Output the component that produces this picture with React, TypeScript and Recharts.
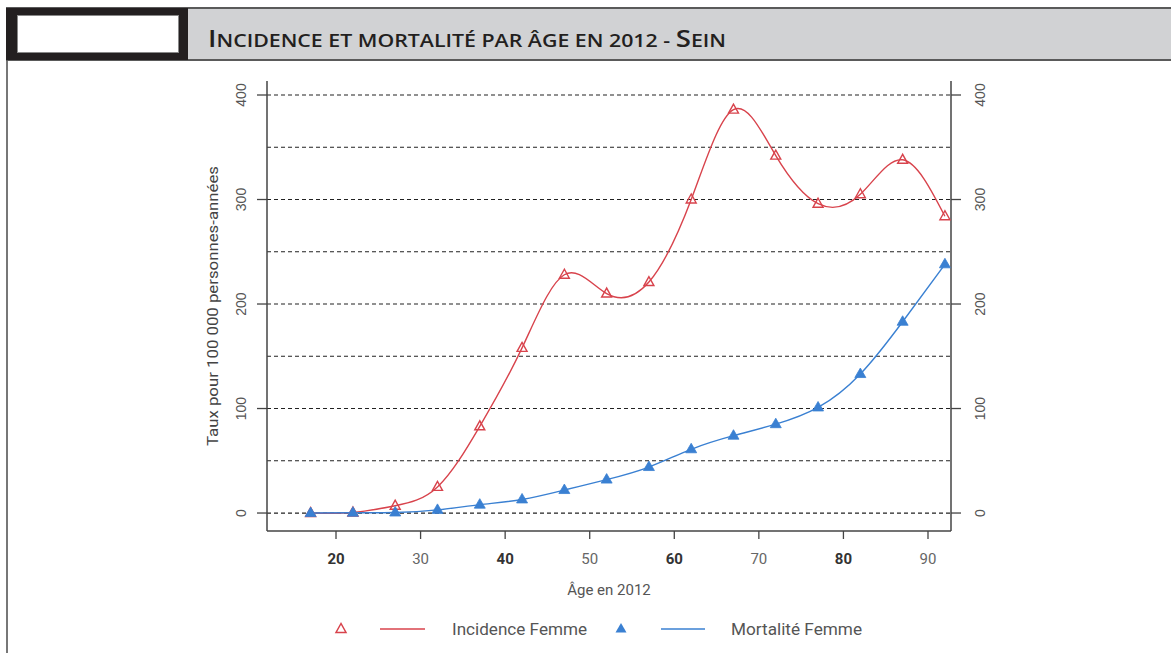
import React from 'react';
import { LineChart, Line, XAxis, YAxis, ReferenceLine, Legend } from 'recharts';

const ages = [17, 22, 27, 32, 37, 42, 47, 52, 57, 62, 67, 72, 77, 82, 87, 92];
const incidenceFemme = [0, 0.5, 7, 25, 83, 158, 228, 210, 221, 300, 386, 342, 296, 305, 338, 284];
const mortaliteFemme = [0, 0.3, 0.5, 3, 8, 13, 22, 32, 44, 61, 74, 85, 101, 133, 183, 238];
const xTicks = [20, 30, 40, 50, 60, 70, 80, 90];
const yTicks = [0, 100, 200, 300, 400];
const gridValues = [0, 50, 100, 150, 200, 250, 300, 350, 400];

const data = ages.map((a, i) => ({ age: a, incidence: incidenceFemme[i], mortalite: mortaliteFemme[i] }));

const RED = '#d8434c';
const BLUE = '#3a80d2';
const X_DOMAIN: [number, number] = [11.84, 92.72];
const Y_DOMAIN: [number, number] = [-17.2, 413.4];

const OpenTri = (props: any) => {
  const { cx, cy, index } = props;
  if (cx == null || cy == null) return <g key={`o${index}`} />;
  return (
    <polygon key={`o${index}`} points={`${cx},${cy - 5.5} ${cx - 5},${cy + 3.5} ${cx + 5},${cy + 3.5}`}
      fill="none" stroke={RED} strokeWidth={1.4} />
  );
};
const FillTri = (props: any) => {
  const { cx, cy, index } = props;
  if (cx == null || cy == null) return <g key={`f${index}`} />;
  return (
    <polygon key={`f${index}`} points={`${cx},${cy - 6} ${cx - 5.5},${cy + 3.5} ${cx + 5.5},${cy + 3.5}`}
      fill={BLUE} stroke={BLUE} strokeWidth={0.8} />
  );
};

const XTick = (props: any) => {
  const { x, y, payload, index } = props;
  return (
    <text x={x} y={y + 18} textAnchor="middle" dominantBaseline="central"
      fontFamily="Roboto, 'Liberation Sans', sans-serif" fontSize={15}
      fontWeight={index % 2 === 0 ? 700 : 400} fill={index % 2 === 0 ? '#333' : '#666'}>
      {payload.value}
    </text>
  );
};

const YTickLeft = (props: any) => {
  const { x, y, payload } = props;
  const cx = x - 14;
  return (
    <text x={cx} y={y} transform={`rotate(-90 ${cx} ${y})`} textAnchor="middle" dominantBaseline="central"
      fontFamily="'Liberation Sans', Arial, sans-serif" fontSize={14} fill="#555">
      {payload.value}
    </text>
  );
};
const YTickRight = (props: any) => {
  const { x, y, payload } = props;
  const cx = x + 17;
  return (
    <text x={cx} y={y} transform={`rotate(-90 ${cx} ${y})`} textAnchor="middle" dominantBaseline="central"
      fontFamily="'Liberation Sans', Arial, sans-serif" fontSize={14} fill="#555">
      {payload.value}
    </text>
  );
};

const XLabel = (props: any) => {
  const vb = props.viewBox || {};
  const cx = vb.x + vb.width / 2;
  return (
    <text x={cx} y={vb.y + 59} textAnchor="middle" dominantBaseline="central"
      fontFamily="Roboto, 'Liberation Sans', sans-serif" fontSize={15} fill="#555">
      Âge en 2012
    </text>
  );
};
const YLabel = (props: any) => {
  const vb = props.viewBox || {};
  const cx = vb.x + 6;
  const cy = vb.y + vb.height / 2;
  return (
    <text x={cx} y={cy} transform={`rotate(-90 ${cx} ${cy})`} textAnchor="middle" dominantBaseline="central"
      fontFamily="Roboto, 'Liberation Sans', sans-serif" fontSize={15} fill="#444"
      textLength={280} lengthAdjust="spacingAndGlyphs">
      Taux pour 100 000 personnes-années
    </text>
  );
};

const LegendContent = () => (
  <svg width={1171} height={30}>
    <polygon points="341,9.5 336,18.5 346,18.5" fill="none" stroke={RED} strokeWidth={1.5} />
    <line x1={380} x2={425} y1={15} y2={15} stroke={RED} strokeWidth={1.5} />
    <text x={452} y={15} dominantBaseline="central" fontFamily="Roboto, sans-serif" fontSize={16} fill="#555"
      textLength={135} lengthAdjust="spacingAndGlyphs">Incidence Femme</text>
    <polygon points="621,9 615.5,18.5 626.5,18.5" fill={BLUE} />
    <line x1={661} x2={705} y1={15} y2={15} stroke={BLUE} strokeWidth={1.5} />
    <text x={731} y={15} dominantBaseline="central" fontFamily="Roboto, sans-serif" fontSize={16} fill="#555"
      textLength={131} lengthAdjust="spacingAndGlyphs">Mortalité Femme</text>
  </svg>
);

const BIG = 24;
const SMALL = 18.5;

export default function App() {
  return (
    <div style={{ position: 'absolute', left: 0, top: 0, width: 1171, height: 653, background: '#fff', overflow: 'hidden' }}>
      {/* header */}
      <div style={{ position: 'absolute', left: 6, top: 7, width: 1165, height: 54, background: '#5a5a5a' }} />
      <div style={{ position: 'absolute', left: 6, top: 8, width: 182, height: 52, background: '#231f20' }} />
      <div style={{ position: 'absolute', left: 17, top: 15, width: 160, height: 36, background: '#fff', border: '1px solid #888' }} />
      <div style={{ position: 'absolute', left: 188, top: 9, width: 983, height: 50, background: '#d1d2d4' }} />
      <svg style={{ position: 'absolute', left: 188, top: 9 }} width={983} height={50}>
        <text x={20} y={38} fontFamily="'Open Sans', 'Liberation Sans', sans-serif" fontWeight={600}
          fill="#231f20" textLength={518} lengthAdjust="spacingAndGlyphs">
          <tspan fontSize={BIG}>I</tspan>
          <tspan fontSize={SMALL}>NCIDENCE ET MORTALITÉ PAR ÂGE EN 2012 - </tspan>
          <tspan fontSize={BIG}>S</tspan>
          <tspan fontSize={SMALL}>EIN</tspan>
        </text>
      </svg>
      <div style={{ position: 'absolute', left: 6, top: 61, width: 2, height: 592, background: '#777' }} />

      <div style={{ position: 'absolute', left: 0, top: 0 }}>
        <LineChart width={1171} height={653} data={data} margin={{ top: 81, left: 207, right: 160, bottom: 52 }}>
          <XAxis dataKey="age" type="number" domain={X_DOMAIN} allowDataOverflow ticks={xTicks}
            height={40} tickSize={8} tick={<XTick />} tickLine={{ stroke: '#444', strokeWidth: 1.3 }}
            axisLine={{ stroke: '#444', strokeWidth: 1.5 }} label={<XLabel />} />
          <XAxis xAxisId="top" orientation="top" type="number" domain={X_DOMAIN} allowDataOverflow height={0}
            tick={false} tickLine={false} axisLine={{ stroke: '#444', strokeWidth: 1.5 }} />
          <YAxis yAxisId="left" type="number" domain={Y_DOMAIN} allowDataOverflow ticks={yTicks} width={60}
            tickSize={10} tick={<YTickLeft />} tickLine={{ stroke: '#444', strokeWidth: 1.3 }}
            axisLine={{ stroke: '#444', strokeWidth: 1.5 }} label={<YLabel />} />
          <YAxis yAxisId="right" orientation="right" type="number" domain={Y_DOMAIN} allowDataOverflow ticks={yTicks}
            width={60} tickSize={10} tick={<YTickRight />} tickLine={{ stroke: '#444', strokeWidth: 1.3 }}
            axisLine={{ stroke: '#444', strokeWidth: 1.5 }} />
          {gridValues.map((v) => (
            <ReferenceLine key={v} yAxisId="left" y={v} stroke="#222" strokeWidth={1.2} strokeDasharray="4 3" />
          ))}
          <Line yAxisId="left" dataKey="incidence" type="natural" stroke={RED} strokeWidth={1.4}
            dot={OpenTri} activeDot={false} isAnimationActive={false} />
          <Line yAxisId="left" dataKey="mortalite" type="natural" stroke={BLUE} strokeWidth={1.4}
            dot={FillTri} activeDot={false} isAnimationActive={false} />
          <Legend content={<LegendContent />}
            wrapperStyle={{ position: 'absolute', left: 0, top: 614, width: 1171, height: 30 }} />
        </LineChart>
      </div>
    </div>
  );
}
